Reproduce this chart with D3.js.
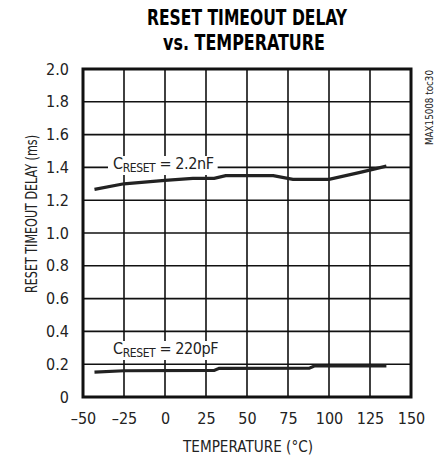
<!DOCTYPE html>
<meta charset="utf-8">
<style>
  body { margin: 0; background: #fff; }
  text { font-family: "DejaVu Sans Condensed", "Liberation Sans", sans-serif; fill: #222; }
  .title { font-weight: bold; font-size: 21px; fill: #000; }
  .grid line { stroke: #111; stroke-width: 1.6; }
  .curve { fill: none; stroke: #222; stroke-width: 3.2; }
</style>
<svg width="440" height="462"></svg>
<script src="https://cdnjs.cloudflare.com/ajax/libs/d3/7.8.5/d3.min.js"></script>
<script>
  // temperature (°C) and delay (ms)
  var temp22n = [-43, -25, -9, 0, 17, 30, 37, 66, 78, 100, 119, 135];
  var delay22n = [1.266, 1.30, 1.313, 1.321, 1.333, 1.333, 1.35, 1.35, 1.327, 1.327, 1.37, 1.408];
  var temp220p = [-43, -25, 30, 33, 88, 91, 135];
  var delay220p = [0.152, 0.16, 0.162, 0.175, 0.176, 0.189, 0.19];
  var xTicks = [-50, -25, 0, 25, 50, 75, 100, 125, 150];
  var yTicks = [0, 0.2, 0.4, 0.6, 0.8, 1.0, 1.2, 1.4, 1.6, 1.8, 2.0];

  var svg = d3.select("svg"),
    x = d3.scaleLinear().domain([-50, 150]).range([83, 411]),
    y = d3.scaleLinear().domain([0, 2]).range([397, 69]);

  // title
  svg.append("text").attr("class", "title").attr("x", 247).attr("y", 25)
    .attr("text-anchor", "middle").attr("textLength", 200).attr("lengthAdjust", "spacingAndGlyphs")
    .text("RESET TIMEOUT DELAY");
  svg.append("text").attr("class", "title").attr("x", 244).attr("y", 50)
    .attr("text-anchor", "middle").attr("textLength", 162).attr("lengthAdjust", "spacingAndGlyphs")
    .text("vs. TEMPERATURE");

  // grid
  var grid = svg.append("g").attr("class", "grid");
  grid.selectAll(".gx").data(xTicks.slice(1, -1)).enter().append("line")
    .attr("x1", x).attr("x2", x).attr("y1", y(0)).attr("y2", y(2));
  grid.selectAll(".gy").data(yTicks.slice(1, -1)).enter().append("line")
    .attr("x1", x(-50)).attr("x2", x(150)).attr("y1", y).attr("y2", y);

  // tick labels
  var fmt = function(d) { return d === 0 ? "0" : d3.format(".1f")(d); };
  var xAxis = svg.append("g").attr("transform", "translate(0," + y(0) + ")")
    .call(d3.axisBottom(x).tickValues(xTicks).tickSize(0).tickPadding(16)
      .tickFormat(function(d) { return d < 0 ? "\u2013" + (-d) : d; }));
  var yAxis = svg.append("g").attr("transform", "translate(" + x(-50) + ",0)")
    .call(d3.axisLeft(y).tickValues(yTicks).tickSize(0).tickPadding(14).tickFormat(fmt));
  [xAxis, yAxis].forEach(function(a) {
    a.select(".domain").remove();
    a.selectAll("text").style("font-size", "16px").attr("fill", "#222")
      .style("font-family", "'DejaVu Sans Condensed', sans-serif");
  });

  // curves
  var line = d3.line().x(function(d) { return x(d[0]); }).y(function(d) { return y(d[1]); });
  svg.append("path").attr("class", "curve").attr("d", line(d3.zip(temp22n, delay22n)));
  svg.append("path").attr("class", "curve").attr("d", line(d3.zip(temp220p, delay220p)));

  // curve labels
  function label(lx, ly, value) {
    var g = svg.append("g");
    var t = g.append("text").attr("x", lx).attr("y", ly)
      .style("font-size", "16px").style("letter-spacing", "-0.4px");
    t.append("tspan").text("C");
    t.append("tspan").attr("dy", 3).style("font-size", "12px").text("RESET");
    t.append("tspan").attr("dy", -3).text(" = " + value);
    var b = t.node().getBBox();
    g.insert("rect", "text").attr("x", b.x - 5).attr("y", b.y + 2)
      .attr("width", b.width + 9).attr("height", b.height - 2).attr("fill", "#fff");
  }
  label(113, 169, "2.2nF");
  label(113, 354, "220pF");

  // frame
  svg.append("rect").attr("x", x(-50)).attr("y", y(2))
    .attr("width", x(150) - x(-50)).attr("height", y(0) - y(2))
    .attr("fill", "none").attr("stroke", "#111").attr("stroke-width", 3);

  // axis titles
  svg.append("text").attr("x", 248).attr("y", 452).attr("text-anchor", "middle")
    .attr("textLength", 130).attr("lengthAdjust", "spacingAndGlyphs")
    .style("font-size", "16px").text("TEMPERATURE (\u00b0C)");
  svg.append("text").attr("transform", "translate(37,214) rotate(-90)")
    .attr("text-anchor", "middle").attr("textLength", 158).attr("lengthAdjust", "spacingAndGlyphs")
    .style("font-size", "16px").text("RESET TIMEOUT DELAY (ms)");
  svg.append("text").attr("transform", "translate(433,70) rotate(-90)")
    .attr("text-anchor", "end").attr("textLength", 75).attr("lengthAdjust", "spacingAndGlyphs")
    .style("font-size", "10px").text("MAX15008 toc30");
</script>
